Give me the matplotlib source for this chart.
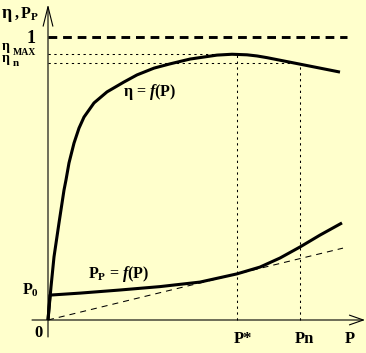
import numpy as np
import matplotlib
matplotlib.use("Agg")
import matplotlib.pyplot as plt

plt.rcParams['font.family'] = 'Liberation Serif'
plt.rcParams['font.weight'] = 'bold'
plt.rcParams['mathtext.fontset'] = 'custom'
plt.rcParams['mathtext.rm'] = 'Liberation Serif:bold'
plt.rcParams['mathtext.it'] = 'Liberation Serif:bold:italic'
plt.rcParams['mathtext.bf'] = 'Liberation Serif:bold'

# efficiency curve eta = f(P)
p_eta = [0, 0.03, 0.06, 0.11, 0.16, 0.18, 0.21, 0.26, 0.31, 0.36, 0.46, 0.59,
         0.76, 0.89, 1.06, 1.22, 1.42, 1.69, 1.84, 1.99, 2.09, 2.19, 2.52, 2.92]
eta = [0, 0.117, 0.223, 0.343, 0.459, 0.495, 0.555, 0.625, 0.678, 0.717, 0.767,
       0.806, 0.841, 0.866, 0.890, 0.905, 0.922, 0.936, 0.939, 0.937, 0.933,
       0.927, 0.904, 0.876]

# losses curve P_P = f(P)
p_loss = [0, 0.02, 0.32, 0.72, 1.12, 1.52, 1.89, 2.12, 2.32, 2.52, 2.72, 2.94]
loss = [0, 0.088, 0.095, 0.106, 0.118, 0.134, 0.163, 0.187, 0.219, 0.258, 0.300, 0.343]

# tangent through origin
p_tan = [0, 2.95]
tan = [0, 0.254]

p_star = 1.89
p_n = 2.52
eta_max = 0.940
eta_n = 0.908
p0 = 0.088

fig = plt.figure(figsize=(3.66, 3.53), dpi=100)
fig.patch.set_facecolor('#FFFFCC')
ax = fig.add_axes([0, 0, 1, 1])
ax.set_facecolor('#FFFFCC')
ax.set_xlim(-0.48, 3.18)
ax.set_ylim(-0.1166, 1.1307)
ax.axis('off')

# axes with arrows
ax.annotate('', xy=(0, 1.115), xytext=(0, -0.06),
            arrowprops=dict(arrowstyle='->,head_length=1.4,head_width=0.35',
                            lw=0.8, color='black', shrinkA=0, shrinkB=0))
ax.annotate('', xy=(3.17, 0), xytext=(-0.16, 0),
            arrowprops=dict(arrowstyle='->,head_length=1.0,head_width=0.35',
                            lw=0.8, color='black', shrinkA=0, shrinkB=0))

# reference lines
ax.plot([0, 2.99], [1, 1], color='black', lw=2.1, dashes=(3.0, 2.0))
dot = dict(color='black', lw=0.75, dashes=(2.2, 3.4))
ax.plot([0, p_star], [eta_max, eta_max], **dot)
ax.plot([0, p_n], [eta_n, eta_n], **dot)
ax.plot([p_star, p_star], [0, eta_max], **dot)
ax.plot([p_n, p_n], [0, eta_n], **dot)
ax.plot(p_tan, tan, color='black', lw=0.75, dashes=(5.8, 4.8))

# curves
ax.plot(p_eta, eta, color='black', lw=2.2, solid_capstyle='butt',
        solid_joinstyle='round')
ax.plot(p_loss, loss, color='black', lw=2.2, solid_capstyle='butt',
        solid_joinstyle='round')

fs = 11.5
ax.text(-0.46, 1.067, 'η', fontsize=13, ha='left', va='baseline')
ax.text(-0.345, 1.067, r'$\mathbf{,P_P}$', fontsize=fs, ha='left', va='baseline')
ax.text(-0.17, 0.979, '1', fontsize=13, ha='center', va='baseline')
ax.text(-0.46, 0.953, 'η', fontsize=10, ha='left', va='baseline')
ax.text(-0.35, 0.937, 'MAX', fontsize=7, ha='left', va='baseline')
ax.text(-0.46, 0.912, 'η', fontsize=10, ha='left', va='baseline')
ax.text(-0.35, 0.898, 'n', fontsize=8, ha='left', va='baseline')
ax.text(-0.26, p0, r'$\mathbf{P_0}$', fontsize=fs, ha='left', va='baseline')
ax.text(-0.09, -0.060, '0', fontsize=12, ha='center', va='baseline')
ax.text(1.95, -0.081, 'P*', fontsize=12, ha='center', va='baseline')
ax.text(2.56, -0.081, 'Pn', fontsize=12, ha='center', va='baseline')
ax.text(3.02, -0.081, 'P', fontsize=12, ha='center', va='baseline')
ax.text(0.75, 0.792, r'$\mathbf{\eta}$ = $f$(P)', fontsize=fs, ha='left', va='baseline')
ax.text(0.40, 0.148, r'$\mathbf{P_P}$ = $f$(P)', fontsize=fs, ha='left', va='baseline')

fig.savefig('out.png', dpi=100, facecolor=fig.get_facecolor())
